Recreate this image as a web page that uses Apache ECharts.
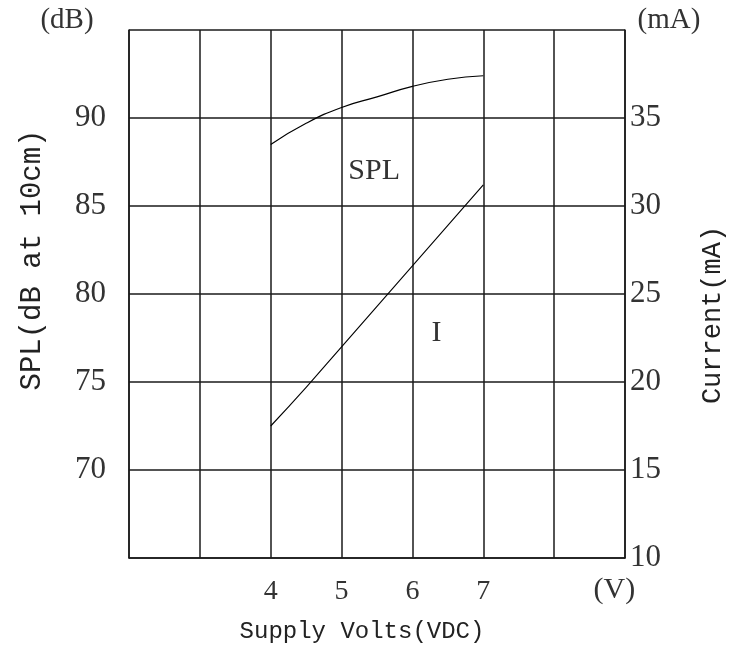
<!DOCTYPE html>
<html>
<head>
<meta charset="utf-8">
<script src="https://cdn.jsdelivr.net/npm/echarts@6/dist/echarts.min.js"></script>
<style>
html,body{margin:0;padding:0;background:#fff;}
#main{width:729px;height:650px;}
</style>
</head>
<body>
<div id="main"></div>
<script>
// Data
const volts = [4, 4.5, 5, 5.5, 6, 6.5, 7];
const splValues = [88.5, 89.7, 90.6, 91.2, 91.8, 92.2, 92.4];
const currentValues = [17.5, 19.7, 22.0, 24.3, 26.6, 28.9, 31.2];
const xTickLabels = [4, 5, 6, 7];
const splTickLabels = [70, 75, 80, 85, 90];
const currentTickLabels = [10, 15, 20, 25, 30, 35];

const serif = 'Liberation Serif';
const mono = 'Liberation Mono';
const ink = '#1a1a1a';

const chart = echarts.init(document.getElementById('main'), null, {renderer: 'canvas'});

const option = {
  backgroundColor: '#fff',
  animation: false,
  grid: {left: 129, right: 104, top: 30, bottom: 92, containLabel: false, outerBoundsMode: 'none'},
  xAxis: {
    type: 'value', min: 2, max: 9, interval: 1,
    name: 'Supply Volts(VDC)', nameLocation: 'middle', nameGap: 62,
    nameTextStyle: {fontFamily: mono, fontSize: 24, color: '#222', padding: [0, 30, 0, 0]},
    axisLine: {show: true, lineStyle: {color: ink, width: 1.5}},
    axisTick: {show: false},
    axisLabel: {
      fontFamily: serif, fontSize: 28, color: '#333', margin: 20,
      formatter: v => xTickLabels.includes(v) ? String(v) : ''
    },
    splitLine: {show: true, lineStyle: {color: ink, width: 1.5}}
  },
  yAxis: [
    {
      type: 'value', min: 65, max: 95, interval: 5, position: 'left',
      name: 'SPL(dB at 10cm)', nameLocation: 'middle', nameGap: 82, nameRotate: 90,
      nameTextStyle: {fontFamily: mono, fontSize: 29, color: '#222', padding: [0, 0, 0, 68]},
      axisLine: {show: true, lineStyle: {color: ink, width: 1.5}},
      axisTick: {show: false},
      axisLabel: {
        fontFamily: serif, fontSize: 31, color: '#333', margin: 23,
        padding: [0, 0, 10, 0],
        formatter: v => splTickLabels.includes(v) ? String(v) : ''
      },
      splitLine: {show: true, lineStyle: {color: ink, width: 1.5}}
    },
    {
      type: 'value', min: 10, max: 40, interval: 5, position: 'right',
      name: 'Current(mA)', nameLocation: 'middle', nameGap: 74, nameRotate: 90,
      nameTextStyle: {fontFamily: mono, fontSize: 27, color: '#222', padding: [0, 42, 0, 0]},
      axisLine: {show: true, lineStyle: {color: ink, width: 1.5}},
      axisTick: {show: false},
      axisLabel: {
        fontFamily: serif, fontSize: 31, color: '#333', margin: 5,
        formatter: v => currentTickLabels.includes(v) ? String(v) : ''
      },
      splitLine: {show: false}
    }
  ],
  series: [
    {
      name: 'SPL', type: 'line', yAxisIndex: 0, smooth: true, symbol: 'none',
      lineStyle: {color: '#000', width: 1.2},
      data: volts.map((v, i) => [v, splValues[i]])
    },
    {
      name: 'I', type: 'line', yAxisIndex: 1, smooth: true, symbol: 'none',
      lineStyle: {color: '#000', width: 1.1},
      data: volts.map((v, i) => [v, currentValues[i]])
    }
  ]
};
chart.setOption(option);

const splPos = chart.convertToPixel({xAxisIndex: 0, yAxisIndex: 0}, [5.46, 87.0]);
const iPos = chart.convertToPixel({xAxisIndex: 0, yAxisIndex: 0}, [6.34, 77.8]);
const vPos = chart.convertToPixel({xAxisIndex: 0, yAxisIndex: 0}, [8.92, 65]);
const topLeft = chart.convertToPixel({xAxisIndex: 0, yAxisIndex: 0}, [2, 95]);
const topRight = chart.convertToPixel({xAxisIndex: 0, yAxisIndex: 0}, [9, 95]);

chart.setOption({
  graphic: [
    {type: 'text', x: splPos[0], y: splPos[1], style: {text: 'SPL', fontFamily: serif, fontSize: 30, fill: '#333', align: 'center', verticalAlign: 'middle'}},
    {type: 'text', x: iPos[0], y: iPos[1], style: {text: 'I', fontFamily: serif, fontSize: 30, fill: '#333', align: 'center', verticalAlign: 'middle'}},
    {type: 'text', x: vPos[0] - 5, y: vPos[1] + 32, style: {text: '(V)', fontFamily: serif, fontSize: 30, fill: '#333', align: 'center', verticalAlign: 'middle'}},
    {type: 'text', x: topLeft[0] - 62, y: topLeft[1] - 10, style: {text: '(dB)', fontFamily: serif, fontSize: 29, fill: '#333', align: 'center', verticalAlign: 'middle'}},
    {type: 'text', x: topRight[0] + 44, y: topRight[1] - 10, style: {text: '(mA)', fontFamily: serif, fontSize: 29, fill: '#333', align: 'center', verticalAlign: 'middle'}}
  ]
});
</script>
</body>
</html>
